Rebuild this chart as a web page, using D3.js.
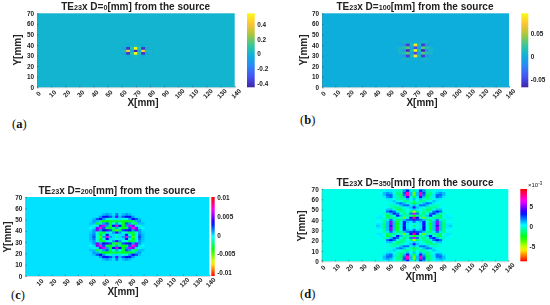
<!DOCTYPE html>
<html>
<head>
<meta charset="utf-8">
<script src="https://cdnjs.cloudflare.com/ajax/libs/d3/7.8.5/d3.min.js"></script>
<style>
    html, body { margin: 0; padding: 0; background: #fff; }
    svg { display: block; }
    text { font-family: "Liberation Sans", Arial, sans-serif; fill: #222; }
    .tick text { font-size: 6.4px; font-weight: bold; font-family: "Liberation Sans", Arial, sans-serif; }
    .title { font-size: 10px; font-weight: bold; }
    .small { font-size: 7.2px; }
    .lab { font-size: 10px; font-weight: bold; }
    .letter { font-family: "Liberation Serif", serif; font-size: 12.5px; fill: #111; }
    .soft { filter: blur(0.3px); }
</style>
</head>
<body>
<svg id="chart" width="550" height="305"></svg>
<script>
const xTicks = d3.range(0, 141, 10);
const xTicksC = d3.range(10, 141, 10);
const yTicks = d3.range(0, 71, 10);

// the fields are symmetric about the centre, so one quarter is read off the picture
// rows go outwards from the centre row, columns outwards from the centre column
const aCenter = [69.7, 34.6], aStep = [2.7, 2.5];
const aQuarter = [
    [-0.45, -0.06, 0.42, 0.05, 0],
    [0.55, 0.08, -0.4, -0.06, 0],
    [0.03, 0, -0.03, 0, 0]
];
const aBarTicks = [-0.4, -0.2, 0, 0.2, 0.4];
const aBarLabels = ["-0.4", "-0.2", "0", "0.2", "0.4"];
const aDomain = [-0.455, 0.55];

const bCenter = [69.8, 35], bStep = [2.9, 2.7];
const bQuarter = [
    [0.093, 0.01, -0.065, -0.014, 0.008, 0],
    [-0.05, -0.005, 0.03, 0.014, 0.008, 0],
    [0.085, 0.01, -0.055, -0.014, -0.004, 0],
    [0, 0, 0.005, 0.005, 0, 0]
];
const bBarTicks = [-0.05, 0, 0.05];
const bBarLabels = ["-0.05", "0", "0.05"];
const bDomain = [-0.068, 0.093];

const cCenter = [69.5, 34.8], cStep = [2.5, 2];
const cQuarter = [
    [-2, 0, 1, 7, 1, -5, -1, 2, 0.5, 0],
    [-1, 0, 0, 3, -1, -4, -1, 1.5, 0.5, 0],
    [4, 1, -1, -1, -3, -3, -1, 1, 0.3, 0],
    [-5, -3, 2, 4, 3, 1, 5, 1, 0, 0],
    [1, -2, -4, -3, 2, 7, 5, 0, -0.5, 0],
    [8, 3, -4, 1, 6, 5, 0, -1, 0, 0],
    [1, -1, -3.5, 2, 1, -2, -3, 0.5, 0.5, 0],
    [-3.5, -3, -3.5, -4, -3.5, -2.5, 0.5, 1, 0, 0],
    [0, 0, -1, -1, 1, 3, 2, 0.5, 0, 0],
    [4.5, 0.5, 2, 3, 3, 1, 0, 0, 0, 0],
    [1.5, 0, 0.5, 1, 0.5, 0, 0, 0, 0, 0]
].map(r => r.map(v => v / 1000));
const cBarTicks = [-0.01, -0.005, 0, 0.005, 0.01];
const cBarLabels = ["-0.01", "-0.005", "0", "0.005", "0.01"];
const cDomain = [-0.011, 0.0102];

const dCenter = [69.2, 34.5], dStep = [2.5, 2];
const dQuarter = [
    [-1.5, 0, 0.5, 3, 0, -2, 1, 4, 1, -1.5, 0.5, 1, 0],
    [0, 0, 0.5, 3.5, 0, -2.5, 1, 5, 1, -1.5, 0.5, 0.5, 0],
    [2, 0.5, 1, 3, 0, -2, 1, 5, 1, -1, 0.3, 0.3, 0],
    [4, 2.5, 2, 1, -1, -1.5, 0.5, 2, 0.5, -1, 0, 0, 0],
    [8, 3.5, 0, -4, -0.5, 0, -1, -1, -1.5, 0, 0.5, 0.5, 0],
    [-3, -1, -1, -0.5, 1, 3, 0, -1, -2, 0, 0.5, 0.3, 0],
    [6, 2, -0.5, -1.5, 0, 2, 3, 1, -0.5, -0.5, 0.3, 0, 0],
    [-5, -1.5, 0, -1, -1, 0, 2, 3, 2, 0, 0, 0, 0],
    [1, 0.5, 0, -0.5, -1.5, -1.5, 0, 1, 1, 0.3, 0, 0, 0],
    [4, 1, 0.5, 0, -0.5, -1, -1, -0.5, 0, 0.3, 0, 0, 0],
    [1, 0.5, 2, 2, 1, 0, -0.5, -0.5, 0, 0, 0, 0, 0],
    [-2, -1, 0, 1, 2, 1.5, 0.5, 0, 0, 0, 0, 0, 0],
    [-1.5, 0, -1, -1, 0, 0, 1, 0.5, 0, 0, 0, 0, 0],
    [1, 0, 1, -0.5, -1, -0.5, 0, 0.5, 0.5, 0, 0, 0, 0],
    [-2, 0.5, 4, 1, -1.5, -0.5, 0.5, 2, 1.5, 0.5, 0, 0, 0],
    [-4, 1, 7, 2, -1.5, -1, 0.5, 2, 2, 1, 0, 0, 0],
    [-4, 1, 7, 2.5, -1, -1, 0, 1, 1.5, 1, 0.3, 0, 0],
    [-1, 0.5, 3, 1.5, -0.5, -0.5, 0, 0.5, 0.5, 0.3, 0, 0, 0]
];
const dBarTicks = [-5, 0, 5];
const dBarLabels = ["-5", "0", "5"];
const dDomain = [-8.75, 9.3];

const parulaColors = ["#3e26a8", "#4752f4", "#2d87f7", "#0cb0da", "#37c897", "#abc739", "#fec338", "#f9fb15"];
const parulaStops = parulaColors.map((c, i) => i / (parulaColors.length - 1));
const parula = d3.scaleLinear().domain(parulaStops).range(parulaColors).interpolate(d3.interpolateRgb);
const hsv = t => d3.hsl(t * 360, 1, 0.5).formatHex();

const svg = d3.select("#chart");
const defs = svg.append("defs");

function drawPanel(id, p) {
    const x = d3.scaleLinear().domain([0, 140]).range([p.left, p.right]);
    const y = d3.scaleLinear().domain([0, 70]).range([p.bottom, p.top]);
    const t = d3.scaleLinear().domain(p.domain).range([0, 1]);
    const color = v => p.map(t(v));

    defs.append("clipPath").attr("id", "clip" + id)
        .append("rect")
        .attr("x", p.left).attr("y", p.top)
        .attr("width", p.right - p.left).attr("height", p.bottom - p.top);
    defs.append("filter").attr("id", "smooth" + id)
        .attr("x", "-5%").attr("y", "-5%").attr("width", "110%").attr("height", "110%")
        .append("feGaussianBlur").attr("stdDeviation", p.blur);

    svg.append("rect")
        .attr("x", p.left).attr("y", p.top)
        .attr("width", p.right - p.left).attr("height", p.bottom - p.top)
        .attr("fill", color(0));

    // spread the quarter out to the four quadrants
    const cells = [];
    p.quarter.forEach((row, k) => row.forEach((v, c) => {
        [-1, 1].forEach(sx => [-1, 1].forEach(sy => {
            if ((c === 0 && sx < 0) || (k === 0 && sy < 0)) return;
            cells.push({mx: p.center[0] + sx * c * p.step[0], my: p.center[1] + sy * k * p.step[1], v: v});
        }));
    }));
    const cw = x(p.step[0]) - x(0);
    const ch = y(0) - y(p.step[1]);

    svg.append("g")
        .attr("clip-path", "url(#clip" + id + ")")
      .append("g")
        .attr("filter", "url(#smooth" + id + ")")
        .selectAll("rect")
        .data(cells)
        .enter()
        .append("rect")
        .attr("x", d => x(d.mx) - cw / 2)
        .attr("y", d => y(d.my) - ch / 2)
        .attr("width", cw + 0.3)
        .attr("height", ch + 0.3)
        .attr("fill", d => color(d.v));

    const xAxis = d3.axisBottom(x).tickValues(p.xTicks).tickSize(-1.5).tickFormat(d3.format("d"));
    const gx = svg.append("g").attr("class", "soft").attr("transform", `translate(0,${p.bottom})`).call(xAxis);
    gx.select(".domain").attr("stroke", "#777").attr("stroke-width", 0.3);
    gx.selectAll(".tick line").attr("stroke", "#333").attr("stroke-width", 0.4);
    gx.selectAll(".tick text")
        .attr("text-anchor", "middle")
        .attr("x", 0).attr("y", 0).attr("dy", 0)
        .attr("transform", "translate(2.5,8) rotate(-45)");

    const yAxis = d3.axisLeft(y).tickValues(yTicks).tickSize(-1.5).tickPadding(3).tickFormat(d3.format("d"));
    const gy = svg.append("g").attr("class", "soft").attr("transform", `translate(${p.left},0)`).call(yAxis);
    gy.select(".domain").attr("stroke", "#777").attr("stroke-width", 0.3);
    gy.selectAll(".tick line").attr("stroke", "#333").attr("stroke-width", 0.4);

    // colorbar
    const bar = d3.scaleLinear().domain(p.domain).range([p.bottom, p.top]);
    const grad = defs.append("linearGradient").attr("id", "bar" + id)
        .attr("x1", 0).attr("x2", 0).attr("y1", 1).attr("y2", 0);
    d3.range(0, 1.001, 0.05).forEach(s => {
        grad.append("stop").attr("offset", s).attr("stop-color", p.map(s));
    });
    svg.append("rect")
        .attr("x", p.barLeft).attr("y", p.top)
        .attr("width", p.barWidth).attr("height", p.bottom - p.top)
        .attr("fill", "url(#bar" + id + ")");
    const gb = svg.append("g").attr("class", "soft")
        .attr("transform", `translate(${p.barLeft + p.barWidth},0)`)
        .call(d3.axisRight(bar).tickValues(p.barTicks).tickSize(0).tickPadding(2.5)
            .tickFormat((d, i) => p.barLabels[i]));
    gb.select(".domain").remove();

    // title, the numbers are set smaller like in the figure
    const title = svg.append("text").attr("class", "title soft")
        .attr("x", p.titleX).attr("y", p.top - 3).attr("text-anchor", "middle");
    title.append("tspan").text("TE");
    title.append("tspan").attr("class", "small").text("23");
    title.append("tspan").text("x D=");
    title.append("tspan").attr("class", "small").text(p.dist);
    title.append("tspan").text("[mm] from the source");

    svg.append("text").attr("class", "lab soft")
        .attr("x", p.xLabel[0]).attr("y", p.xLabel[1]).attr("text-anchor", "middle").text("X[mm]");
    svg.append("text").attr("class", "lab soft")
        .attr("transform", `translate(${p.yLabel[0]},${p.yLabel[1]}) rotate(-90)`)
        .attr("text-anchor", "middle").text("Y[mm]");

    const letter = svg.append("text").attr("class", "letter")
        .attr("x", p.letter[0]).attr("y", p.letter[1]);
    letter.append("tspan").text("(");
    letter.append("tspan").attr("font-weight", "bold").text(id);
    letter.append("tspan").text(")");
}

drawPanel("a", {left: 37, right: 234.7, top: 13.3, bottom: 87.3, barLeft: 247, barWidth: 7.7,
    center: aCenter, step: aStep, quarter: aQuarter, domain: aDomain, barTicks: aBarTicks, barLabels: aBarLabels,
    map: parula, blur: 0.45, xTicks: xTicks, dist: "0", titleX: 135.7, xLabel: [143, 106], yLabel: [21, 50], letter: [12, 128]});
drawPanel("b", {left: 322, right: 509, top: 13.3, bottom: 87.3, barLeft: 521.3, barWidth: 7,
    center: bCenter, step: bStep, quarter: bQuarter, domain: bDomain, barTicks: bBarTicks, barLabels: bBarLabels,
    map: parula, blur: 0.5, xTicks: xTicks, dist: "100", titleX: 415, xLabel: [422, 106], yLabel: [307, 50], letter: [300, 124]});
drawPanel("c", {left: 25.3, right: 209.3, top: 197, bottom: 276, barLeft: 211.3, barWidth: 3.4,
    center: cCenter, step: cStep, quarter: cQuarter, domain: cDomain, barTicks: cBarTicks, barLabels: cBarLabels,
    map: hsv, blur: 0.5, xTicks: xTicksC, dist: "200", titleX: 117, xLabel: [123, 295], yLabel: [11, 237], letter: [11, 299]});
drawPanel("d", {left: 321.7, right: 508.3, top: 189, bottom: 261.3, barLeft: 520.3, barWidth: 6.7,
    center: dCenter, step: dStep, quarter: dQuarter, domain: dDomain, barTicks: dBarTicks, barLabels: dBarLabels,
    map: hsv, blur: 0.45, xTicks: xTicks, dist: "350", titleX: 415, xLabel: [421, 280], yLabel: [305, 226], letter: [300, 298]});

// exponent over the last colorbar
const exponent = svg.append("text").attr("class", "soft")
    .attr("x", 528).attr("y", 187).attr("font-size", 6);
exponent.append("tspan").text("×10");
exponent.append("tspan").attr("font-size", 4.5).attr("dy", -2).text("-3");
</script>
</body>
</html>
